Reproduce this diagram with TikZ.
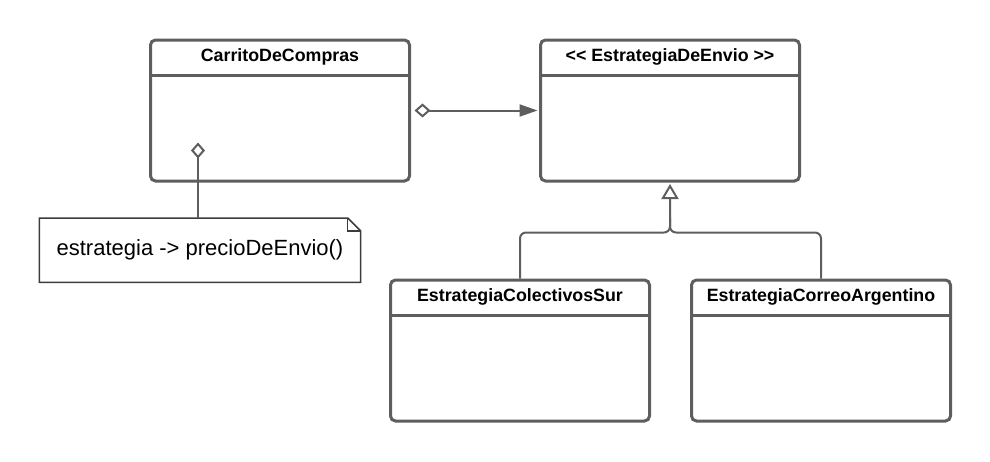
\documentclass[tikz,border=0pt]{standalone}
\usepackage{fontspec}
\setmainfont{Liberation Sans}
\usetikzlibrary{arrows.meta,positioning}
\definecolor{linegray}{HTML}{5E5E5E}
\definecolor{notegray}{HTML}{3C3C3C}

\begin{document}
\begin{tikzpicture}[x=1pt,y=-1pt]

\tikzstyle{classbox} = [draw=linegray, line width=3pt, rounded corners=5pt, minimum width=259pt, minimum height=141pt, inner sep=0pt]
\tikzstyle{head} = [font=\fontsize{17.8}{21}\selectfont\bfseries, inner sep=0pt]
\tikzstyle{sep} = [draw=linegray, line width=3pt]
\tikzstyle{notebox} = [minimum width=321pt, minimum height=64pt, inner sep=0pt, font=\fontsize{22}{26}\selectfont]
\tikzstyle{conn} = [draw=linegray, line width=2pt]

\useasboundingbox (0,0) rectangle (990,461);

\node [classbox] (carrito) at (280,110.5) {};
\node [classbox, right=128pt of carrito] (envio) {};
\node [classbox, below=96pt of envio, xshift=-150pt] (colectivos) {};
\node [classbox, right=39pt of colectivos] (correo) {};
\node [notebox, below=35.5pt of carrito, xshift=-80pt] (note) {estrategia -> precioDeEnvio()};

%class headers
\foreach \n/\t in {carrito/CarritoDeCompras, envio/{<\kern0pt< EstrategiaDeEnvio >\kern0pt>}, colectivos/EstrategiaColectivosSur, correo/EstrategiaCorreoArgentino} {
  \node [head] (\n head) at ([yshift=-18.5pt]\n.north) {\t};
  \path [sep] ([yshift=-37pt]\n.north west) -- ([yshift=-37pt]\n.north east);
}

%note
\draw [notegray, line width=1.5pt] (note.north west) -- ([xshift=-13pt]note.north east) -- ([yshift=-13pt]note.north east) -- (note.south east) -- (note.south west) -- cycle;
\draw [notegray, line width=1.5pt] ([xshift=-13pt]note.north east) |- ([yshift=-13pt]note.north east);

%arrows
\coordinate (carritoref) at ([xshift=-82pt,yshift=40pt]carrito.south);
\path [conn, -{Diamond[open,length=16pt,width=14pt]}] (note.north -| carritoref) -- (carritoref);
\path [conn, {Diamond[open,length=16pt,width=14pt]}-{Triangle[length=18pt,width=12pt]}] ([xshift=3.5pt]carrito.east) -- ([xshift=-1.5pt]envio.west);

\coordinate (joint) at ([yshift=-50pt]envio.south);
\path [conn, rounded corners=6pt, -{Triangle[open,length=15pt,width=17pt]}] (colectivos.north) |- (joint) -- ([yshift=-1.5pt]envio.south);
\path [conn, rounded corners=6pt] (correo.north) |- (joint) -- ([yshift=15pt]joint);
\end{tikzpicture}
\end{document}
